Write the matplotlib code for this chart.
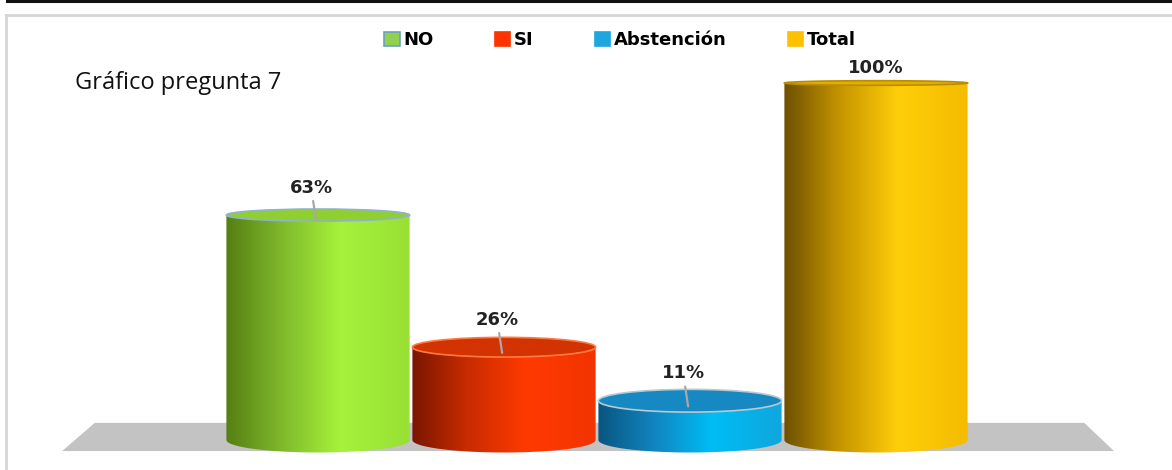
import numpy as np
import matplotlib
matplotlib.use("Agg")
import matplotlib.pyplot as plt
from matplotlib.patches import Polygon, Ellipse, Rectangle
from matplotlib.colors import LinearSegmentedColormap
from matplotlib.lines import Line2D

# ---- data ----
categories = ["NO", "SI", "Abstención", "Total"]
values = [63, 26, 11, 100]
labels = ["63%", "26%", "11%", "100%"]

# colour stops for each cylinder side (left shadow -> highlight -> right)
side_colors = [
    ["#557f14", "#7fb82a", "#a6f23c", "#98e034"],
    ["#7a1600", "#c82c00", "#ff3a00", "#f23400"],
    ["#0a5580", "#1184bf", "#00bdf5", "#0fa6de"],
    ["#6e5000", "#c49400", "#ffce0a", "#f4bc00"],
]
lid_colors = ["#8fcf30", "#d33300", "#1689c2", "#e4ae00"]
lid_edges = ["#8fb2cf", "#ff7a45", "#b9c9d2", "#b98d00"]
legend_colors = ["#92d050", "#ff3300", "#1ea6df", "#ffc000"]
legend_edges = ["#6d9fc4", "#ff3300", "#1ea6df", "#ffc000"]

W, H = 1172, 470
fig = plt.figure(figsize=(W / 100, H / 100), dpi=100)
fig.patch.set_facecolor("white")

# frame decoration
fig.add_artist(Line2D([0.006, 1.0], [0.998, 0.998], color="#111111", lw=2.2,
                      transform=fig.transFigure))
fig.add_artist(Line2D([0.005, 1.0], [1 - 14.5 / H, 1 - 14.5 / H], color="#d6d6d6", lw=2,
                      transform=fig.transFigure))
fig.add_artist(Line2D([0.0055, 0.0055], [0.0, 1 - 14.5 / H], color="#d6d6d6", lw=2,
                      transform=fig.transFigure))

ax = fig.add_axes([0, 0, 1, 1])
x_px0, x_step = 318.0, 186.0
y_px0, y_step = 440.0, 3.57
ax.set_xlim(-x_px0 / x_step, (W - x_px0) / x_step)
ax.set_ylim((y_px0 - H) / y_step, y_px0 / y_step)
ax.axis("off")

# gray floor under the cylinders
floor = Polygon([(-1.376, -3.1), (4.28, -3.1), (4.12, 4.8), (-1.2, 4.8)],
                closed=True, facecolor="#c3c3c3", edgecolor="none", zorder=1)
ax.add_patch(floor)

bar_w = 0.985


def ellipse_height(v):
    # apparent thickness of a cylinder cap, larger lower in the view
    return 7.0 - 0.057 * v


for i, (v, sc, lc, le) in enumerate(zip(values, side_colors, lid_colors, lid_edges)):
    x0, x1 = i - bar_w / 2, i + bar_w / 2
    hb = ellipse_height(0) / 2
    # side body: rectangle plus front half of the base ellipse
    t = np.linspace(np.pi, 2 * np.pi, 60)
    arc = np.column_stack([i + bar_w / 2 * np.cos(t), hb * np.sin(t)])
    verts = np.vstack([[(x0, v)], arc, [(x1, v)], [(x0, v)]])
    body = Polygon(verts, closed=True, facecolor="none", edgecolor="none", zorder=2 + i)
    ax.add_patch(body)
    cmap = LinearSegmentedColormap.from_list(f"c{i}", list(zip([0, 0.3, 0.62, 1.0], sc)))
    grad = np.linspace(0, 1, 256)[None, :]
    im = ax.imshow(grad, cmap=cmap, aspect="auto", extent=(x0, x1, -hb - 0.5, v + 1),
                   zorder=2 + i, interpolation="bilinear")
    im.set_clip_path(body)
    # top cap
    ht = ellipse_height(v)
    lid = Ellipse((i, v), bar_w, ht, facecolor=lc, edgecolor=le, lw=1.2, zorder=2.5 + i)
    ax.add_patch(lid)

# value labels with leader lines
label_font = dict(family="DejaVu Sans", fontsize=13, fontweight="bold", color="#222222")
for i, (v, lab) in enumerate(zip(values, labels)):
    if v < 100:
        ax.annotate(lab, xy=(i - 0.01, v - 1.6), xytext=(-5, 33), textcoords="offset pixels",
                    ha="center", va="center",
                    arrowprops=dict(arrowstyle="-", color="#a8a8a8", lw=1.6,
                                    shrinkA=1, shrinkB=0), zorder=10, **label_font)
    else:
        ax.annotate(lab, xy=(i, v), xytext=(0, 15), textcoords="offset pixels",
                    ha="center", va="center", zorder=10, **label_font)

# title text
fig.text(75 / W, 1 - 83 / H, "Gráfico pregunta 7", fontsize=17, family="Open Sans",
         color="#111111", va="center", ha="left")

# legend
handles = [Rectangle((0, 0), 1, 1, facecolor=c, edgecolor=e, lw=1.2)
           for c, e in zip(legend_colors, legend_edges)]
fig.legend(handles, categories, loc="center", bbox_to_anchor=(620 / W, 1 - 40 / H), ncol=4,
           frameon=False, handlelength=0.85, handleheight=0.85, handletextpad=0.2,
           columnspacing=3.4, prop=dict(family="DejaVu Sans", weight="bold", size=13))

fig.savefig("out.png", dpi=100, facecolor="white")
